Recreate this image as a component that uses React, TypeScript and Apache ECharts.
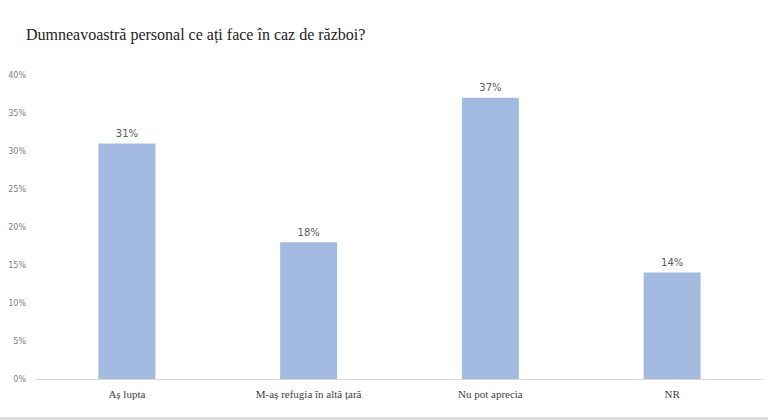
import React, { useEffect, useRef } from "react";
import * as echarts from "echarts";

const title = "Dumneavoastră personal ce ați face în caz de război?";
const categories = ["Aș lupta", "M-aș refugia în altă țară", "Nu pot aprecia", "NR"];
const values = [31, 18, 37, 14];
const yTicks = [0, 5, 10, 15, 20, 25, 30, 35, 40];

export default function App() {
  const ref = useRef<HTMLDivElement>(null);
  useEffect(() => {
    if (!ref.current) return;
    const chart = echarts.init(ref.current, null, { renderer: "svg" });
    chart.setOption({
      animation: false,
      backgroundColor: "#ffffff",
      title: {
        text: title,
        left: 21,
        top: 21,
        textStyle: { fontFamily: "Liberation Serif", fontSize: 16, fontWeight: "normal", color: "#222222" },
      },
      grid: { left: 36, right: 5, top: 75, bottom: 41 },
      xAxis: {
        type: "category",
        data: categories,
        axisLine: { lineStyle: { color: "#d9d9d9", width: 1 } },
        axisTick: { show: false },
        axisLabel: { fontFamily: "Liberation Serif", fontSize: 11, color: "#404040", margin: 9 },
      },
      yAxis: {
        type: "value",
        min: yTicks[0],
        max: yTicks[yTicks.length - 1],
        interval: 5,
        splitLine: { show: false },
        axisLine: { show: false },
        axisTick: { show: false },
        axisLabel: {
          formatter: (v: number) => v + "%",
          fontFamily: "DejaVu Sans",
          fontSize: 8,
          color: "#7f7f7f",
          margin: 10,
        },
      },
      series: [
        {
          type: "bar",
          data: values,
          barWidth: 57,
          itemStyle: { color: "#a4bbe1" },
          label: {
            show: true,
            position: "top",
            formatter: "{c}%",
            fontFamily: "DejaVu Sans",
            fontSize: 10,
            color: "#595959",
            distance: 5,
          },
        },
      ],
      graphic: [
        {
          type: "line",
          shape: { x1: 0, y1: 418.5, x2: 768, y2: 418.5 },
          style: { stroke: "#cfcfcf", lineWidth: 2 },
        },
      ],
    });
    return () => chart.dispose();
  }, []);
  return <div ref={ref} style={{ width: 768, height: 420, position: "absolute", left: 0, top: 0 }} />;
}
